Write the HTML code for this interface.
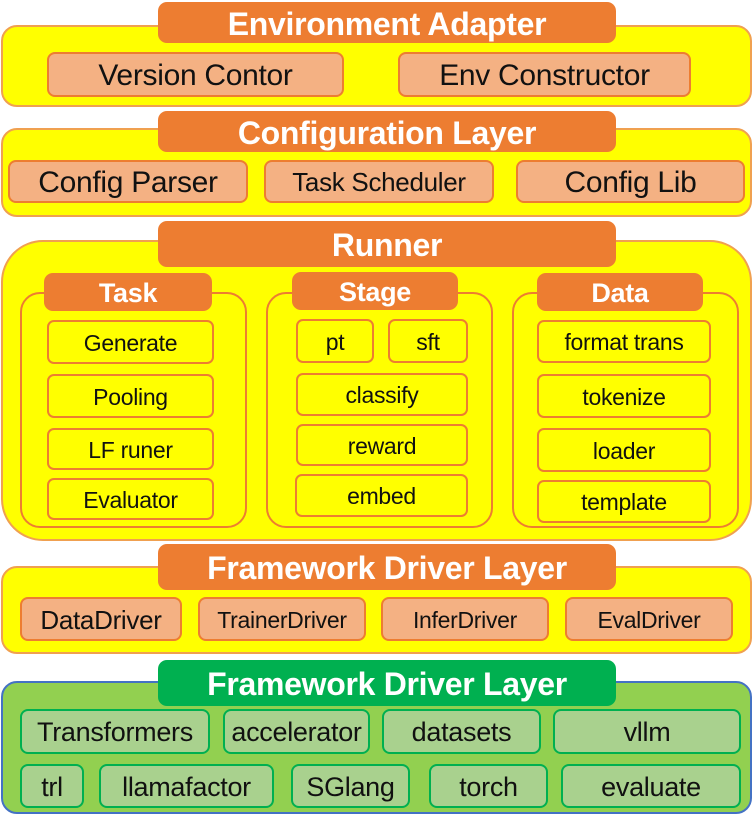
<!DOCTYPE html>
<html><head><meta charset="utf-8"><style>
body{margin:0;width:754px;height:816px;background:#fff;position:relative;overflow:hidden;font-family:"Liberation Sans",sans-serif}
div{position:absolute;box-sizing:border-box;display:flex;align-items:center;justify-content:center;white-space:nowrap;letter-spacing:-0.3px}
.y{background:#ffff00;border:2px solid #f0a050;border-radius:16px}
.t{background:#ed7d31;color:#fff;font-weight:bold;font-size:32px;border-radius:9px;padding-top:3px}
.p{background:#f4b183;border:2px solid #ed7d31;border-radius:8px;font-size:30px;color:#111;padding-top:2px}
.g{border:2px solid #ed7d31;border-radius:20px;background:#ffff00}
.i{border:2px solid #ed7d31;border-radius:7px;font-size:23px;background:#ffff00;color:#111;padding-top:2px}
.gr{background:#a9d18e;border:2px solid #00b050;border-radius:8px;font-size:27px;color:#111;padding-top:2px}
</style></head><body>
<div class="y" style="left:1px;top:25px;width:751px;height:82px"></div>
<div class="t" style="left:158px;top:2px;width:458px;height:41px">Environment Adapter</div>
<div class="p" style="left:47px;top:52px;width:297px;height:45px">Version Contor</div>
<div class="p" style="left:398px;top:52px;width:293px;height:45px">Env Constructor</div>

<div class="y" style="left:1px;top:128px;width:751px;height:89px"></div>
<div class="t" style="left:158px;top:111px;width:458px;height:41px">Configuration Layer</div>
<div class="p" style="left:8px;top:160px;width:240px;height:43px">Config Parser</div>
<div class="p" style="left:264px;top:160px;width:230px;height:43px;font-size:26px">Task Scheduler</div>
<div class="p" style="left:516px;top:160px;width:229px;height:43px">Config Lib</div>

<div class="y" style="left:1px;top:240px;width:751px;height:301px;border-radius:42px"></div>
<div class="t" style="left:158px;top:221px;width:458px;height:46px">Runner</div>

<div class="g" style="left:20px;top:292px;width:227px;height:236px"></div>
<div class="t" style="left:44px;top:273px;width:168px;height:38px;font-size:27px">Task</div>
<div class="i" style="left:47px;top:320px;width:167px;height:44px">Generate</div>
<div class="i" style="left:47px;top:374px;width:167px;height:44px">Pooling</div>
<div class="i" style="left:47px;top:428px;width:167px;height:42px">LF runer</div>
<div class="i" style="left:47px;top:478px;width:167px;height:42px">Evaluator</div>

<div class="g" style="left:266px;top:292px;width:227px;height:236px"></div>
<div class="t" style="left:292px;top:272px;width:166px;height:38px;font-size:27px">Stage</div>
<div class="i" style="left:296px;top:319px;width:78px;height:44px">pt</div>
<div class="i" style="left:388px;top:319px;width:80px;height:44px">sft</div>
<div class="i" style="left:296px;top:373px;width:172px;height:43px">classify</div>
<div class="i" style="left:296px;top:424px;width:172px;height:42px">reward</div>
<div class="i" style="left:295px;top:474px;width:173px;height:43px">embed</div>

<div class="g" style="left:512px;top:292px;width:227px;height:236px"></div>
<div class="t" style="left:537px;top:273px;width:166px;height:38px;font-size:27px">Data</div>
<div class="i" style="left:537px;top:320px;width:174px;height:43px">format trans</div>
<div class="i" style="left:537px;top:374px;width:174px;height:44px">tokenize</div>
<div class="i" style="left:537px;top:428px;width:174px;height:44px">loader</div>
<div class="i" style="left:537px;top:480px;width:174px;height:43px">template</div>

<div class="y" style="left:1px;top:566px;width:751px;height:88px"></div>
<div class="t" style="left:158px;top:544px;width:458px;height:46px">Framework Driver Layer</div>
<div class="p" style="left:20px;top:597px;width:162px;height:44px;font-size:26px">DataDriver</div>
<div class="p" style="left:198px;top:597px;width:168px;height:44px;font-size:23px">TrainerDriver</div>
<div class="p" style="left:381px;top:597px;width:168px;height:44px;font-size:23px">InferDriver</div>
<div class="p" style="left:565px;top:597px;width:168px;height:44px;font-size:23px">EvalDriver</div>

<div style="left:1px;top:681px;width:751px;height:133px;background:#92d050;border:2px solid #4472c4;border-radius:16px"></div>
<div class="t" style="left:158px;top:660px;width:458px;height:46px;background:#00b050">Framework Driver Layer</div>
<div class="gr" style="left:20px;top:709px;width:190px;height:45px">Transformers</div>
<div class="gr" style="left:223px;top:709px;width:147px;height:45px">accelerator</div>
<div class="gr" style="left:382px;top:709px;width:159px;height:45px">datasets</div>
<div class="gr" style="left:553px;top:709px;width:188px;height:45px">vllm</div>
<div class="gr" style="left:20px;top:764px;width:64px;height:44px">trl</div>
<div class="gr" style="left:99px;top:764px;width:175px;height:44px">llamafactor</div>
<div class="gr" style="left:291px;top:764px;width:119px;height:44px">SGlang</div>
<div class="gr" style="left:429px;top:764px;width:119px;height:44px">torch</div>
<div class="gr" style="left:561px;top:764px;width:180px;height:44px">evaluate</div>
</body></html>
